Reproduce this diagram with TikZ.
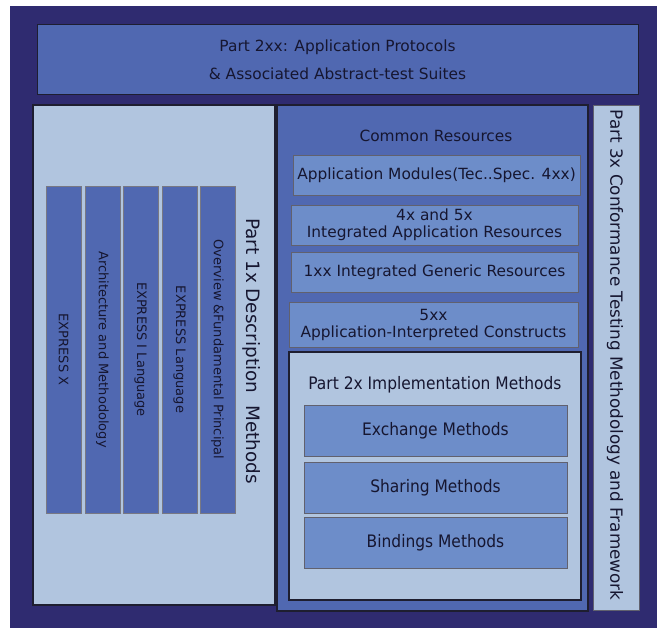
\documentclass[tikz,border=0pt]{standalone}
\usepackage{fontspec}
\setmainfont{DejaVu Sans}
\newfontfamily\condfont{DejaVu Sans Condensed}
\begin{document}
\begin{tikzpicture}[x=1pt,y=-1pt,
  every node/.style={inner sep=0pt, outer sep=0pt, text=textc},
  panel/.style={draw=edgec, line width=1.6pt, anchor=north west},
  box/.style={draw=edgec!70, line width=0.6pt, anchor=north west, align=center},
  bar/.style={draw=edgec!60, line width=0.6pt, fill=midblue, anchor=north west},
  lbl/.style={font=\fontsize{15.4}{17}\selectfont, align=center},
  barlbl/.style={rotate=-90, font=\fontsize{13}{15}\selectfont},
  condlbl/.style={font=\condfont\fontsize{17.2}{20}\selectfont}
]
\definecolor{navy}{HTML}{2F2B70}
\definecolor{midblue}{HTML}{5068B1}
\definecolor{lightbox}{HTML}{6D8DC9}
\definecolor{steel}{HTML}{B1C5DF}
\definecolor{edgec}{HTML}{1E1E30}
\definecolor{textc}{HTML}{161630}
\useasboundingbox (0,0) rectangle (657,628);
\fill[white] (0,0) rectangle (657,628);
\node[fill=navy, anchor=north west, minimum width=647pt, minimum height=622pt] (bg) at (10,6) {};
% top
\node[box, fill=midblue, draw=edgec, line width=1pt, minimum width=601pt, minimum height=70pt, lbl] (top) at (37,25)
  {Part 2xx: Application Protocols\\[11pt] \& Associated Abstract-test Suites};
% left panel
\node[panel, fill=steel, minimum width=242pt, minimum height=500pt] (left) at (33,105) {};
\node[bar, minimum width=35pt, minimum height=327pt] (b1) at (46,186) {};
\node[bar, minimum width=35pt, minimum height=327pt] (b2) at (85,186) {};
\node[bar, minimum width=35pt, minimum height=327pt] (b3) at (123,186) {};
\node[bar, minimum width=35pt, minimum height=327pt] (b4) at (162,186) {};
\node[bar, minimum width=35pt, minimum height=327pt] (b5) at (200,186) {};
\node[barlbl] (t1) at (b1.center) {EXPRESS X};
\node[barlbl] (t2) at (b2.center) {Architecture and Methodology};
\node[barlbl] (t3) at (b3.center) {EXPRESS I Language};
\node[barlbl] (t4) at (b4.center) {EXPRESS Language};
\node[barlbl] (t5) at (b5.center) {Overview \&Fundamental Principal};
\node[rotate=-90, font=\fontsize{18.4}{21}\selectfont] (pt1) at (252,351) {Part 1x Description\ \ Methods};
% middle panel
\node[panel, fill=midblue, minimum width=311pt, minimum height=506pt] (mid) at (277,105) {};
\node[lbl] (common) at (436,136) {Common Resources};
\node[box, fill=lightbox, minimum width=287pt, minimum height=40pt, lbl] (am) at (293,155) {Application Modules(Tec..Spec. 4xx)};
\node[box, fill=lightbox, minimum width=287pt, minimum height=40pt, lbl] (ar) at (291,205) {4x and 5x\\Integrated Application Resources};
\node[box, fill=lightbox, minimum width=287pt, minimum height=40pt, lbl] (gr) at (291,252) {1xx Integrated Generic Resources};
\node[box, fill=lightbox, minimum width=289pt, minimum height=45pt, lbl] (ai) at (289,302) {5xx\\Application-Interpreted Constructs};
\node[box, fill=steel, draw=edgec, line width=1.2pt, minimum width=292pt, minimum height=248pt] (p2) at (289,352) {};
\node[condlbl] (p2t) at (435,385) {Part 2x Implementation Methods};
\node[box, fill=lightbox, minimum width=263pt, minimum height=51pt, condlbl] (ex) at (304,405) {Exchange Methods};
\node[box, fill=lightbox, minimum width=263pt, minimum height=51pt, condlbl] (sh) at (304,462) {Sharing Methods};
\node[box, fill=lightbox, minimum width=263pt, minimum height=51pt, condlbl] (bi) at (304,517) {Bindings Methods};
% right panel
\node[box, fill=steel, minimum width=46pt, minimum height=505pt] (right) at (593,105) {};
\node[rotate=-90, font=\fontsize{16.8}{19}\selectfont] (pt3) at (615,355) {Part 3x Conformance Testing Methodology and Framework};
\end{tikzpicture}
\end{document}
